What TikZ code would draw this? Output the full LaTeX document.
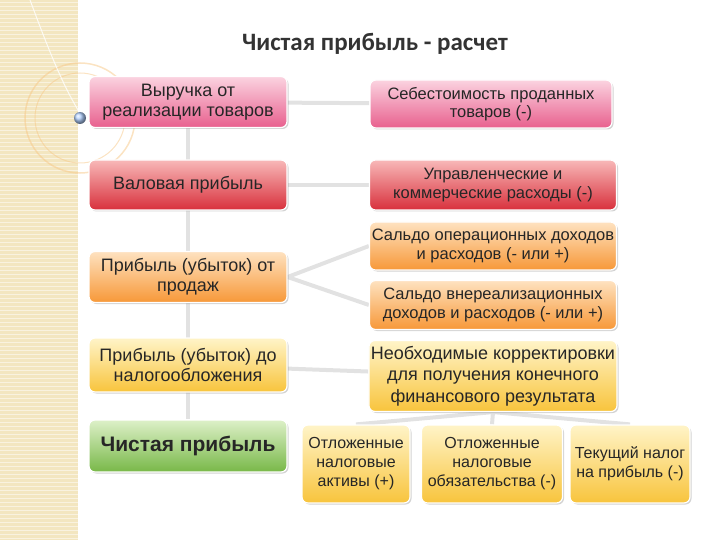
\documentclass[tikz,border=0pt]{standalone}
\usepackage{fontspec}
\setmainfont{Liberation Sans}
\newfontfamily\titlefont{Carlito}
\usetikzlibrary{shadows,backgrounds}
\definecolor{beige}{HTML}{F3E6C0}
\definecolor{conn}{HTML}{E2E2E2}
\definecolor{pinkT}{HTML}{FBD3E0}
\definecolor{pinkB}{HTML}{E8608E}
\definecolor{redT}{HTML}{F8B8B8}
\definecolor{redB}{HTML}{D8303C}
\definecolor{orT}{HTML}{FEE2C0}
\definecolor{orB}{HTML}{F79838}
\definecolor{yeT}{HTML}{FFF4C8}
\definecolor{yeB}{HTML}{F8C43C}
\definecolor{grT}{HTML}{DDF0C8}
\definecolor{grB}{HTML}{78B848}
\tikzset{
  box/.style={draw=white,line width=1.2pt,rounded corners=6pt,align=center,font=\fontsize{18}{20}\selectfont,text=black!85,inner xsep=2pt,drop shadow={shadow xshift=1.5pt,shadow yshift=-1.5pt,opacity=0.35}},
  pinkb/.style={box,top color=pinkT,bottom color=pinkB},
  redb/.style={box,top color=redT,bottom color=redB},
  orb/.style={box,top color=orT,bottom color=orB},
  yelb/.style={box,top color=yeT,bottom color=yeB},
  grnb/.style={box,top color=grT,bottom color=grB},
  rtext/.style={font=\fontsize{16.5}{18.5}\selectfont},
  ctext/.style={font=\fontsize{16}{19}\selectfont},
  conline/.style={conn,line width=4pt}
}
\begin{document}
\begin{tikzpicture}[x=1pt,y=-1pt]
\useasboundingbox (0,0) rectangle (720,540);
\fill[beige] (0,0) rectangle (78,540);
\foreach \yy in {2,6,...,538} \draw[white,opacity=0.5,line width=0.6pt] (0,\yy) -- (78,\yy);
\draw[white,line width=1pt,opacity=0.8] (78,0) -- (78,540);
\draw[beige!70!orange,line width=1.5pt,opacity=0.5] (80,118) circle (55);
\draw[beige!70!orange,line width=1pt,opacity=0.5] (80,118) circle (45);
\draw[white,line width=1pt,opacity=0.8] (30,0) .. controls (45,40) and (60,80) .. (78,110);
\shade[ball color=cyan!40!blue!30] (80,118) circle (6);
\node[font=\titlefont\bfseries\fontsize{25}{28}\selectfont,text=black!80] (title) at (375,44) {Чистая прибыль - расчет};
\node[pinkb,minimum width=198pt,minimum height=51pt] (b1) at (188,102) {Выручка от\\реализации товаров};
\node[redb,minimum width=198pt,minimum height=50pt] (b2) at (188,185) {Валовая прибыль};
\node[orb,minimum width=198pt,minimum height=51pt] (b3) at (188,277) {Прибыль (убыток) от\\продаж};
\node[yelb,minimum width=198pt,minimum height=54pt] (b4) at (188,365) {Прибыль (убыток) до\\налогообложения};
\node[grnb,minimum width=198pt,minimum height=52pt,font=\bfseries\fontsize{21}{23}\selectfont] (b5) at (188,446) {Чистая прибыль};
\node[pinkb,minimum width=242pt,minimum height=48pt,rtext] (r1) at (491,104) {Себестоимость проданных\\товаров (-)};
\node[redb,minimum width=247pt,minimum height=50pt,rtext] (r2) at (493,185) {Управленческие и\\коммерческие расходы (-)};
\node[orb,minimum width=247pt,minimum height=48pt,rtext] (r3) at (493,246) {Сальдо операционных доходов\\и расходов (- или +)};
\node[orb,minimum width=247pt,minimum height=49pt,rtext] (r4) at (493,305) {Сальдо внереализационных\\доходов и расходов (- или +)};
\node[yelb,minimum width=247pt,minimum height=71pt,font=\fontsize{18}{21.5}\selectfont] (r5) at (493,376) {Необходимые корректировки\\для получения конечного\\финансового результата};
\node[yelb,minimum width=108pt,minimum height=78pt,ctext] (c1) at (356,464) {Отложенные\\налоговые\\активы (+)};
\node[yelb,minimum width=141pt,minimum height=78pt,ctext] (c2) at (492,464) {Отложенные\\налоговые\\обязательства (-)};
\node[yelb,minimum width=120pt,minimum height=78pt,ctext] (c3) at (630,464) {Текущий налог\\на прибыль (-)};
\begin{scope}[on background layer]
\draw[conline] (b1) -- (b5);
\draw[conline] (b1) -- (r1);
\draw[conline] (b2) -- (r2);
\draw[conline] (b3.east) -- (r3.west);
\draw[conline] (b3.east) -- (r4.west);
\draw[conline] (b4) -- (r5);
\draw[conline] (r5.south) -- (c1.north);
\draw[conline] (r5.south) -- (c2.north);
\draw[conline] (r5.south) -- (c3.north);
\end{scope}
\end{tikzpicture}
\end{document}
